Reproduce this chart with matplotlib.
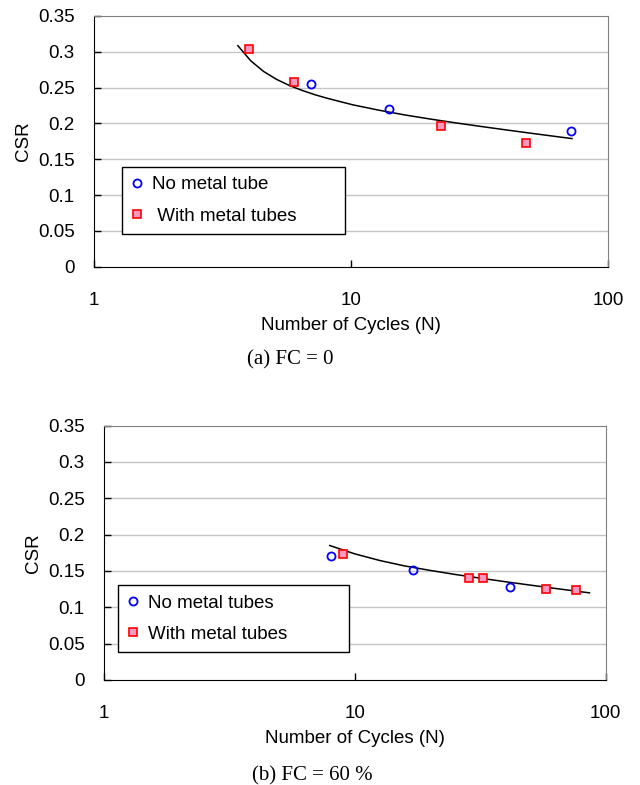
import numpy as np
import matplotlib
matplotlib.use('Agg')
import matplotlib.pyplot as plt

plt.rcParams['font.family'] = ['Liberation Sans', 'DejaVu Sans']

# (a) FC = 0
a_no_N = [7, 14, 72]
a_no_csr = [0.255, 0.220, 0.190]
a_with_N = [4, 6, 22.5, 48]
a_with_csr = [0.304, 0.258, 0.197, 0.173]
# trend line
a_fit_N = [3.63, 4.07, 4.57, 5.13, 5.75, 6.46, 7.24, 8.13, 10.2, 12.9, 16.2, 20.4,
           25.7, 32.4, 40.7, 51.3, 64.6, 72.4]
a_fit_csr = [0.3085, 0.2875, 0.2725, 0.2615, 0.253, 0.246, 0.240, 0.2348, 0.2258,
             0.2183, 0.2118, 0.206, 0.2006, 0.1955, 0.1906, 0.1858, 0.1811, 0.1788]

# (b) FC = 60 %
b_no_N = [8, 17, 41.7]
b_no_csr = [0.170, 0.151, 0.128]
b_with_N = [9, 28.5, 32.3, 57.8, 75.9]
b_with_csr = [0.173, 0.140, 0.140, 0.1255, 0.1236]
b_fit_N = [7.94, 10, 12.6, 15.8, 20, 25.1, 31.6, 39.8, 50.1, 63.1, 79.4, 86.1]
b_fit_csr = [0.185, 0.1735, 0.1643, 0.1569, 0.1507, 0.1452, 0.1401, 0.1352, 0.1305,
             0.1259, 0.1214, 0.1199]

yticks = [0, 0.05, 0.1, 0.15, 0.2, 0.25, 0.3, 0.35]
ytick_labels = ['0', '0.05', '0.1', '0.15', '0.2', '0.25', '0.3', '0.35']
xticks = [1, 10, 100]
xtick_labels = ['1', '10', '100']

FS = 13.5


def panel(ax, no_N, no_csr, with_N, with_csr, fit_N, fit_csr, no_lab, with_lab, leg_box):
    ax.set_xscale('log')
    ax.set_xlim(1, 100)
    ax.set_ylim(0, 0.35)
    for y in yticks[1:-1]:
        ax.axhline(y, color='#c4c4c4', lw=1.0, zorder=0)
    ax.plot(fit_N, fit_csr, color='black', lw=1.1, zorder=2)
    ax.plot(no_N, no_csr, 'o', ms=5.8, mfc='none', mec='#0000ff', mew=1.3,
            label=no_lab, zorder=3)
    ax.plot(with_N, with_csr, 's', ms=6.3, mfc='#f799c0', mec='#ff0000', mew=1.2,
            label=with_lab, zorder=3)
    ax.set_yticks(yticks)
    ax.set_yticklabels(ytick_labels)
    ax.set_xticks(xticks)
    ax.set_xticklabels(xtick_labels)
    ax.minorticks_off()
    ax.tick_params(direction='in', length=5, width=1, labelsize=FS, color='black')
    ax.tick_params(axis='y', pad=14)
    ax.tick_params(axis='x', pad=18)
    ax.spines['left'].set_color('black')
    ax.spines['bottom'].set_color('black')
    ax.spines['top'].set_color('#808080')
    ax.spines['right'].set_color('#808080')
    ax.set_xlabel('Number of Cycles (N)', fontsize=FS, labelpad=6)
    ax.set_ylabel('CSR', fontsize=FS, labelpad=4)
    leg = ax.legend(loc='upper left', bbox_to_anchor=leg_box, mode='expand',
                    fontsize=FS, frameon=True, fancybox=False, edgecolor='black',
                    framealpha=1, handlelength=0.6, handletextpad=0.5,
                    labelspacing=0.75, borderpad=0.5, borderaxespad=0)
    leg.get_frame().set_linewidth(1.0)


fig = plt.figure(figsize=(6.4, 7.85), dpi=100)
ax1 = fig.add_axes([0.1469, 0.6603, 0.803, 0.3194])
ax2 = fig.add_axes([0.1625, 0.1338, 0.784, 0.324])

panel(ax1, a_no_N, a_no_csr, a_with_N, a_with_csr, a_fit_N, a_fit_csr,
      'No metal tube', ' With metal tubes', (0.054, 0.298, 0.434, 0.1))
panel(ax2, b_no_N, b_no_csr, b_with_N, b_with_csr, b_fit_N, b_fit_csr,
      'No metal tubes', 'With metal tubes', (0.028, 0.273, 0.46, 0.1))

fig.text(290 / 640, 1 - 360 / 785, '(a) FC = 0', ha='center', va='center',
         fontsize=15, family='Liberation Serif')
fig.text(312 / 640, 1 - 776 / 785, '(b) FC = 60 %', ha='center', va='center',
         fontsize=15, family='Liberation Serif')

fig.savefig('out.png', dpi=100)
